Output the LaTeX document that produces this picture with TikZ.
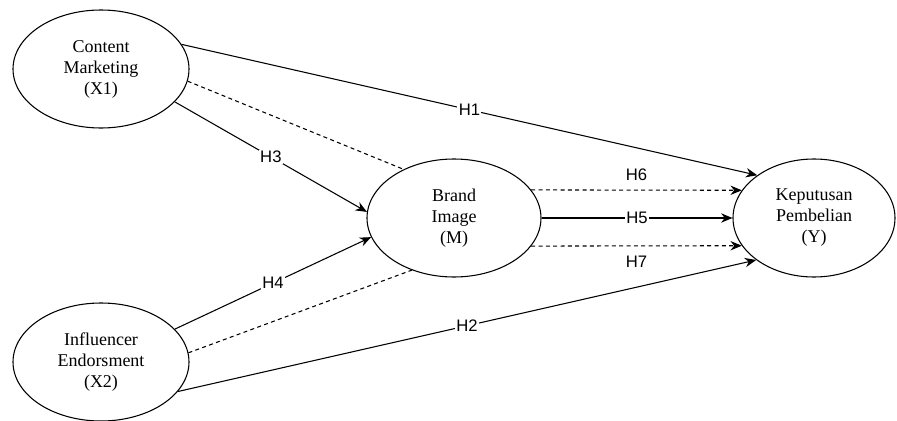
\documentclass[tikz,border=0pt]{standalone}
\usepackage{fontspec}
\setmainfont{Liberation Serif}
\setsansfont{Liberation Sans}
\usetikzlibrary{shapes.geometric,arrows.meta}

\begin{document}
\begin{tikzpicture}[x=0.75pt,y=-0.75pt,line width=0.8pt,
    construct/.style={draw,ellipse,align=center,inner sep=0pt,
	minimum width=132pt,minimum height=88.5pt,
	font=\fontsize{13.5}{15.75}\selectfont},
    link/.style={-{Stealth[length=8.5pt,width=7pt]}},
    indirect/.style={dash pattern=on 3pt off 2.5pt},
    hyp/.style={fill=white,inner sep=1pt,font=\sffamily\fontsize{12.5}{14}\selectfont}]
    \useasboundingbox (0,0) rectangle (897,421);
    \path (101, 69) node [construct]
	(content) {Content\\Marketing\\(X1)};
    \path (101,362) node [construct]
	(influencer) {Influencer\\Endorsment\\(X2)};
    \path (454,218) node [construct,minimum width=130.5pt]
	(brand) {Brand\\Image\\(M)};
    \path (814,218) node [construct,minimum width=121.5pt]
	(decision) {Keputusan\\Pembelian\\(Y)};
    \draw [link] (content.17) -- node [hyp] {H1} (decision.143);
    \draw [link] (content.-24) -- node [hyp] {H3} (brand.176);
    \draw [indirect] (content.-8) -- (brand.136);
    \draw [link] (influencer.24) -- node [hyp] {H4} (brand.-167);
    \draw [indirect] (influencer.6) -- (brand.-129);
    \draw [link] (influencer.-21) -- node [hyp] {H2} (decision.-144);
    \draw [link,indirect] (brand.20) -- node [hyp,above=6pt] {H6} (decision.159);
    \draw [link] (brand.east) -- node [hyp] {H5} (decision.west);
    \draw [link,indirect] (brand.-20) -- node [hyp,below=6pt] {H7} (decision.-159);
\end{tikzpicture}
\end{document}
